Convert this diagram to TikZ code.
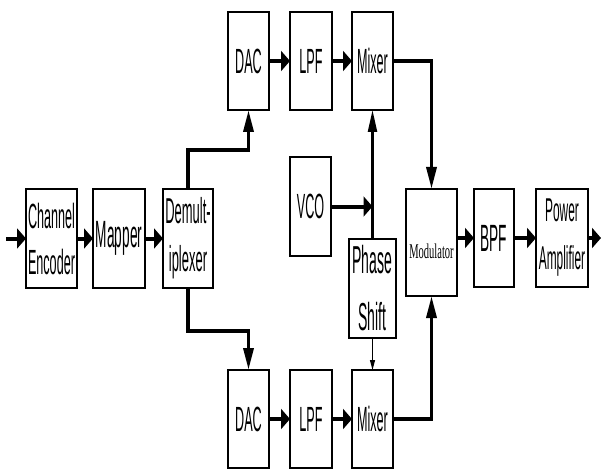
\documentclass[tikz,border=0pt]{standalone}
\usepackage{fontspec}
\setmainfont{Liberation Sans}
\newfontfamily\narrowsans[FakeStretch=0.36]{Liberation Sans}
\newfontfamily\narrowserif[FakeStretch=0.5]{Liberation Serif}
\usetikzlibrary{arrows.meta,calc}
\begin{document}
\begin{tikzpicture}[x=1pt,y=-1pt,
 box/.style={draw,line width=2pt,inner sep=0pt,outer sep=0pt,align=center,
   font=\narrowsans\fontsize{35}{46}\selectfont},
 hthick/.style={line width=4pt,-{Triangle[length=9pt,width=20pt]}},
 vthick/.style={line width=3.4pt,-{Triangle[length=22pt,width=10pt]}},
 vmed/.style={line width=2.2pt,-{Triangle[length=22pt,width=9pt]}},
 vthin/.style={line width=1.1pt,-{Triangle[length=10pt,width=5pt]}},
]
\useasboundingbox (0,0) rectangle (601,470);
% main chain
\node[box,minimum width=51pt,minimum height=99pt] (enc) at (51.5,238.5) {Channel\\Encoder};
\node[box,minimum width=52pt,minimum height=99pt,font=\narrowsans\fontsize{38}{40}\selectfont] (map) at (119,238.5) {Mapper};
\node[box,minimum width=50pt,minimum height=99pt,font=\narrowsans\fontsize{36}{48}\selectfont] (dmx) at (188,238.5) {Demult-\\iplexer};
% upper branch
\node[box,minimum width=41pt,minimum height=98pt] (dac1) at (248.5,61) {DAC};
\node[box,minimum width=42pt,minimum height=98pt] (lpf1) at (311,61) {LPF};
\node[box,minimum width=41pt,minimum height=98pt] (mix1) at (372.5,61) {Mixer};
% lower branch
\node[box,minimum width=41pt,minimum height=98pt] (dac2) at (248.5,419) {DAC};
\node[box,minimum width=42pt,minimum height=98pt] (lpf2) at (311,419) {LPF};
\node[box,minimum width=41pt,minimum height=98pt] (mix2) at (372.5,419) {Mixer};
% oscillator
\node[box,minimum width=41pt,minimum height=99pt] (vco) at (310.5,206.5) {VCO};
\node[box,minimum width=47pt,minimum height=99pt,font=\narrowsans\fontsize{39}{57}\selectfont] (ph) at (372.5,288.5) {Phase\\Shift};
% output chain
\node[box,minimum width=51pt,minimum height=107pt] (mod) at (431.5,242.5) {};
\node[font=\narrowserif\fontsize{21}{24}\selectfont,inner sep=0pt] (modt) at (431.5,251) {Modulator};
\node[box,minimum width=40pt,minimum height=98pt,font=\narrowsans\fontsize{38}{46}\selectfont] (bpf) at (494,238) {BPF};
\node[box,minimum width=52pt,minimum height=98pt,font=\narrowsans\fontsize{33}{48}\selectfont] (pa) at (562,238) {Power\\Amplifier};
\coordinate (in) at (6,238.5);
\coordinate (out) at (601,238);
% connectors
\draw[hthick] (in) -- (enc);
\draw[hthick] (enc) -- (map);
\draw[hthick] (map) -- (dmx);
\draw[vthick] (dmx.north) |- (dac1.south |- 0,150) -- (dac1.south);
\draw[vthick] (dmx.south) |- (dac2.north |- 0,331) -- (dac2.north);
\draw[hthick] (dac1) -- (lpf1);
\draw[hthick] (lpf1) -- (mix1);
\draw[hthick] (dac2) -- (lpf2);
\draw[hthick] (lpf2) -- (mix2);
\draw[vthick] (mix1.east) -| (mod.north);
\draw[vthick] (mix2.east) -| (mod.south);
\draw[hthick] (vco.east) -- (vco.east -| ph.north);
\draw[vmed] (ph.north) -- (mix1.south);
\draw[vthin] (ph.south) -- (mix2.north);
\draw[hthick] (mod.east |- bpf.west) -- (bpf.west);
\draw[hthick] (bpf) -- (pa);
\draw[hthick] (pa) -- (out);
\end{tikzpicture}
\end{document}
